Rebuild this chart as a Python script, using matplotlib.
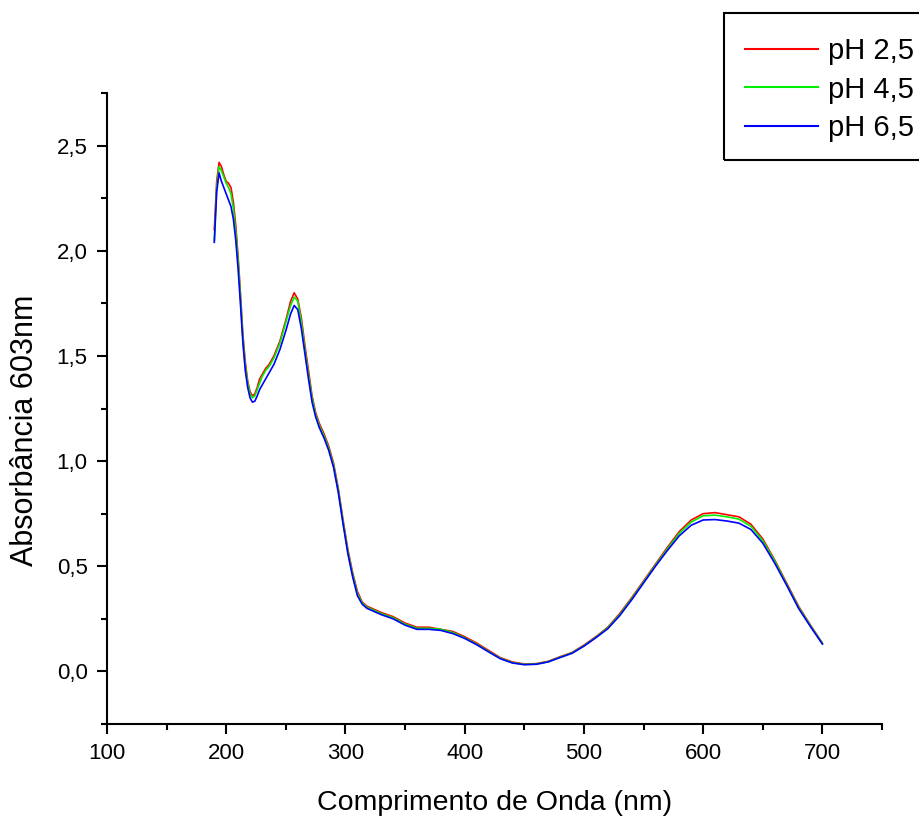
import numpy as np
import matplotlib
matplotlib.use("Agg")
import matplotlib.pyplot as plt
from matplotlib.ticker import MultipleLocator, FuncFormatter
from matplotlib.lines import Line2D
from matplotlib.patches import Rectangle

plt.rcParams["font.family"] = ["Liberation Sans", "DejaVu Sans"]

# wavelength (nm)
wl = [190, 192, 194, 196, 198, 200, 202, 204, 206, 208, 210, 212, 214, 216, 218,
      220, 222, 224, 226, 228, 230, 233, 236, 240, 245, 250, 254, 257, 260, 263,
      266, 269, 272, 275, 278, 282, 286, 290, 294, 298, 302, 306, 310, 314, 318,
      322, 330, 340, 350, 360, 370, 380, 390, 400, 410, 420, 430, 440, 450, 460,
      470, 480, 490, 500, 510, 520, 530, 540, 550, 560, 570, 580, 590, 600, 610,
      620, 630, 640, 650, 660, 670, 680, 690, 700]

ph25 = [2.10, 2.33, 2.42, 2.40, 2.36, 2.33, 2.32, 2.30, 2.23, 2.12, 1.97, 1.79, 1.60, 1.47, 1.38,
        1.33, 1.31, 1.32, 1.35, 1.39, 1.41, 1.44, 1.46, 1.50, 1.57, 1.67, 1.76, 1.80, 1.77, 1.68,
        1.55, 1.43, 1.31, 1.23, 1.18, 1.13, 1.07, 0.99, 0.87, 0.72, 0.58, 0.47, 0.38, 0.33, 0.31,
        0.30, 0.28, 0.26, 0.23, 0.21, 0.21, 0.20, 0.19, 0.165, 0.135, 0.10, 0.065, 0.045, 0.035, 0.037,
        0.048, 0.07, 0.09, 0.125, 0.165, 0.21, 0.275, 0.35, 0.43, 0.51, 0.59, 0.665, 0.72, 0.75, 0.755,
        0.745, 0.735, 0.70, 0.63, 0.53, 0.42, 0.31, 0.22, 0.135]

ph45 = [2.05, 2.30, 2.40, 2.38, 2.35, 2.32, 2.30, 2.27, 2.20, 2.09, 1.95, 1.77, 1.58, 1.45, 1.37,
        1.32, 1.30, 1.31, 1.34, 1.37, 1.40, 1.43, 1.45, 1.49, 1.56, 1.66, 1.74, 1.78, 1.76, 1.66,
        1.53, 1.41, 1.30, 1.22, 1.17, 1.12, 1.06, 0.98, 0.86, 0.71, 0.57, 0.46, 0.37, 0.325, 0.305,
        0.295, 0.275, 0.255, 0.225, 0.205, 0.205, 0.20, 0.185, 0.16, 0.13, 0.095, 0.062, 0.042, 0.033, 0.035,
        0.046, 0.068, 0.088, 0.122, 0.162, 0.207, 0.27, 0.345, 0.425, 0.505, 0.583, 0.657, 0.71, 0.74, 0.743,
        0.735, 0.724, 0.69, 0.622, 0.525, 0.415, 0.305, 0.217, 0.133]

ph65 = [2.04, 2.28, 2.37, 2.33, 2.30, 2.27, 2.24, 2.21, 2.15, 2.05, 1.91, 1.74, 1.56, 1.43, 1.35,
        1.30, 1.28, 1.285, 1.31, 1.34, 1.36, 1.39, 1.42, 1.46, 1.53, 1.62, 1.70, 1.74, 1.72, 1.63,
        1.51, 1.39, 1.28, 1.21, 1.16, 1.11, 1.05, 0.97, 0.85, 0.70, 0.56, 0.45, 0.36, 0.32, 0.30,
        0.29, 0.27, 0.25, 0.22, 0.20, 0.20, 0.195, 0.18, 0.157, 0.127, 0.093, 0.06, 0.04, 0.032, 0.034,
        0.045, 0.066, 0.086, 0.12, 0.16, 0.203, 0.265, 0.34, 0.42, 0.50, 0.575, 0.645, 0.695, 0.72, 0.722,
        0.715, 0.705, 0.675, 0.61, 0.515, 0.41, 0.30, 0.213, 0.13]

labels = ["pH 2,5", "pH 4,5", "pH 6,5"]
colors = ["#ff0000", "#00ee00", "#0000ff"]

fig = plt.figure(figsize=(9.19, 8.22), dpi=100)
ax = fig.add_axes([107/919, 1 - 724/822, 775/919, 631/822])

for y, c in zip([ph25, ph45, ph65], colors):
    ax.plot(wl, y, color=c, lw=1.2)

ax.set_xlim(100, 750)
ax.set_ylim(-0.25, 2.75)
ax.xaxis.set_major_locator(MultipleLocator(100))
ax.xaxis.set_minor_locator(MultipleLocator(50))
ax.yaxis.set_major_locator(MultipleLocator(0.5))
ax.yaxis.set_minor_locator(MultipleLocator(0.25))
ax.xaxis.set_major_formatter(FuncFormatter(lambda v, p: f"{v:.0f}" if v <= 700 else ""))
ax.yaxis.set_major_formatter(FuncFormatter(lambda v, p: f"{v:.1f}".replace(".", ",")))

for s in ["top", "right"]:
    ax.spines[s].set_visible(False)
for s in ["left", "bottom"]:
    ax.spines[s].set_linewidth(1.5)
ax.tick_params(which="major", direction="out", length=7, width=1.5, labelsize=16, pad=7)
ax.tick_params(which="minor", direction="out", length=4, width=1.5)

ax.set_xlabel("Comprimento de Onda (nm)", fontsize=20.5)
ax.set_ylabel("Absorbância 603nm", fontsize=22)
ax.xaxis.set_label_coords(0.5, -0.105)
ax.yaxis.set_label_coords(-0.087, 0.466)

# legend box runs off the right edge in the original
fig.patches.append(Rectangle((724/919, 1 - 160/822), 0.4, 147/822, transform=fig.transFigure,
                             fill=False, ec="black", lw=1.5))
handles = [Line2D([], [], color=c, lw=1.5) for c in colors]
fig.legend(handles, labels, loc="upper left", bbox_to_anchor=(745/919, 1 - 37/822),
           frameon=False, fontsize=21, borderpad=0, borderaxespad=0,
           handlelength=2.5, handletextpad=0.34, labelspacing=0.36)

fig.savefig("out.png", dpi=100)
